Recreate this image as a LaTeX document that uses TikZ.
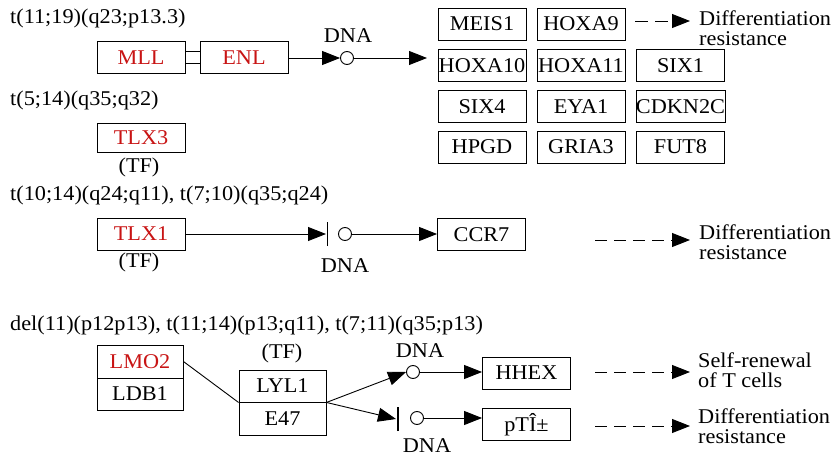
\documentclass[tikz,border=0pt]{standalone}
\usepackage{fontspec}
\setmainfont[FakeStretch=1.06]{Liberation Serif}
\usetikzlibrary{arrows.meta}
\definecolor{genered}{RGB}{200,20,20}
\tikzset{
  every node/.style={font=\fontsize{21}{20}\selectfont},
  gbox/.style={draw,line width=0.9pt,minimum width=88pt,minimum height=32pt,inner sep=0pt},
  rgbox/.style={gbox,text=genered},
  dnac/.style={draw,circle,line width=0.9pt,minimum size=13pt,inner sep=0pt},
  lbl/.style={inner sep=0pt},
  outc/.style={inner sep=0pt,anchor=west,align=left},
  act/.style={line width=0.9pt,-{Triangle[length=18pt,width=14pt]}},
  dact/.style={act,dash pattern=on 12pt off 7pt},
  bar/.style={line width=1.2pt},
}
\begin{document}
\begin{tikzpicture}[x=1pt,y=-1pt]
\useasboundingbox (0,0) rectangle (836,460);
% ---- row 1
\node[lbl,anchor=west] (t1) at (10,18) {t(11;19)(q23;p13.3)};
\node[rgbox] (mll) at (141,57.5) {MLL};
\node[rgbox] (enl) at (244,57.5) {ENL};
\draw[line width=0.9pt] (mll.east |- 0,51.5) -- (enl.west |- 0,51.5);
\draw[line width=0.9pt] (mll.east |- 0,63) -- (enl.west |- 0,63);
\node[dnac] (c1) at (347,58) {};
\node[lbl] (d1) at (348,36) {DNA};
\coordinate (gin) at (427,58);
\draw[act] (enl.east |- c1) -- (c1.west);
\draw[act] (c1.east) -- (gin);
\node[gbox] (meis1) at (482,24) {MEIS1};
\node[gbox] (hoxa9) at (581,24) {HOXA9};
\node[gbox] (hoxa10) at (482,65.5) {HOXA10};
\node[gbox] (hoxa11) at (581,65.5) {HOXA11};
\node[gbox] (six1) at (680.5,65.5) {SIX1};
\node[gbox] (six4) at (482,106.5) {SIX4};
\node[gbox] (eya1) at (581,106.5) {EYA1};
\node[gbox] (cdkn2c) at (680.5,106.5) {CDKN2C};
\node[gbox] (hpgd) at (482,147) {HPGD};
\node[gbox] (gria3) at (581,147) {GRIA3};
\node[gbox] (fut8) at (680.5,147) {FUT8};
\node[outc] (o1) at (699,28) {Differentiation\\resistance};
\coordinate (o1s) at (635,21);
\draw[act,dash pattern=on 13pt off 7pt] (o1s) -- ([xshift=-9pt]o1.west |- o1s);
% ---- row 2
\node[lbl,anchor=west] (t2) at (10,100) {t(5;14)(q35;q32)};
\node[rgbox,minimum height=29pt] (tlx3) at (141,138) {TLX3};
\node[lbl] (tf1) at (139,167) {(TF)};
% ---- row 3
\node[lbl,anchor=west] (t3) at (10,195) {t(10;14)(q24;q11), t(7;10)(q35;q24)};
\node[rgbox] (tlx1) at (141,234) {TLX1};
\node[lbl] (tf2) at (139,262) {(TF)};
\coordinate (b1) at (327.5,234);
\draw[bar] ([yshift=-12pt]b1) -- ([yshift=12pt]b1);
\node[dnac] (c2) at (345,234) {};
\node[lbl] (d2) at (345,266) {DNA};
\node[gbox] (ccr7) at (481.5,234.5) {CCR7};
\draw[act] (tlx1.east |- b1) -- ([xshift=-1.5pt]b1);
\draw[act] (c2.east) -- (ccr7.west |- c2);
\node[outc] (o2) at (699,242) {Differentiation\\resistance};
\coordinate (o2s) at (595,240);
\draw[dact] (o2s) -- ([xshift=-9pt]o2.west |- o2s);
% ---- row 4
\node[lbl,anchor=west] (t4) at (10,325) {del(11)(p12p13), t(11;14)(p13;q11), t(7;11)(q35;p13)};
\node[rgbox,minimum width=86pt,minimum height=33pt] (lmo2) at (140,361.5) {LMO2};
\node[gbox,minimum width=86pt] (ldb1) at (140,394) {LDB1};
\node[gbox,minimum width=87pt] (lyl1) at (282.5,386) {LYL1};
\node[gbox,minimum width=87pt,minimum height=33pt] (e47) at (282.5,418.5) {E47};
\node[lbl] (tf3) at (282,353) {(TF)};
\draw[line width=0.9pt] (lmo2.east) -- (lyl1.south west);
\node[dnac] (c3) at (413,372) {};
\node[lbl] (d3) at (420,351) {DNA};
\coordinate (b2) at (398,419);
\draw[bar] ([yshift=-12pt]b2) -- ([yshift=12pt]b2);
\node[dnac] (c4) at (417,418) {};
\node[lbl] (d4) at (427,446) {DNA};
\draw[act] (lyl1.south east) -- (c3.west);
\draw[act] (lyl1.south east) -- ([xshift=-2pt]b2);
\node[gbox] (hhex) at (526.5,373) {HHEX};
\node[gbox] (pta) at (526.5,424.5) {pTÎ±};
\draw[act] (c3.east) -- (hhex.west |- c3);
\draw[act] (c4.east) -- (pta.west |- c4);
\node[outc] (o3) at (698,370) {Self-renewal\\of T cells};
\coordinate (o3s) at (595,372);
\draw[dact] (o3s) -- ([xshift=-8pt]o3.west |- o3s);
\node[outc] (o4) at (698,426) {Differentiation\\resistance};
\coordinate (o4s) at (595,426);
\draw[dact] (o4s) -- ([xshift=-8pt]o4.west |- o4s);
\end{tikzpicture}
\end{document}
